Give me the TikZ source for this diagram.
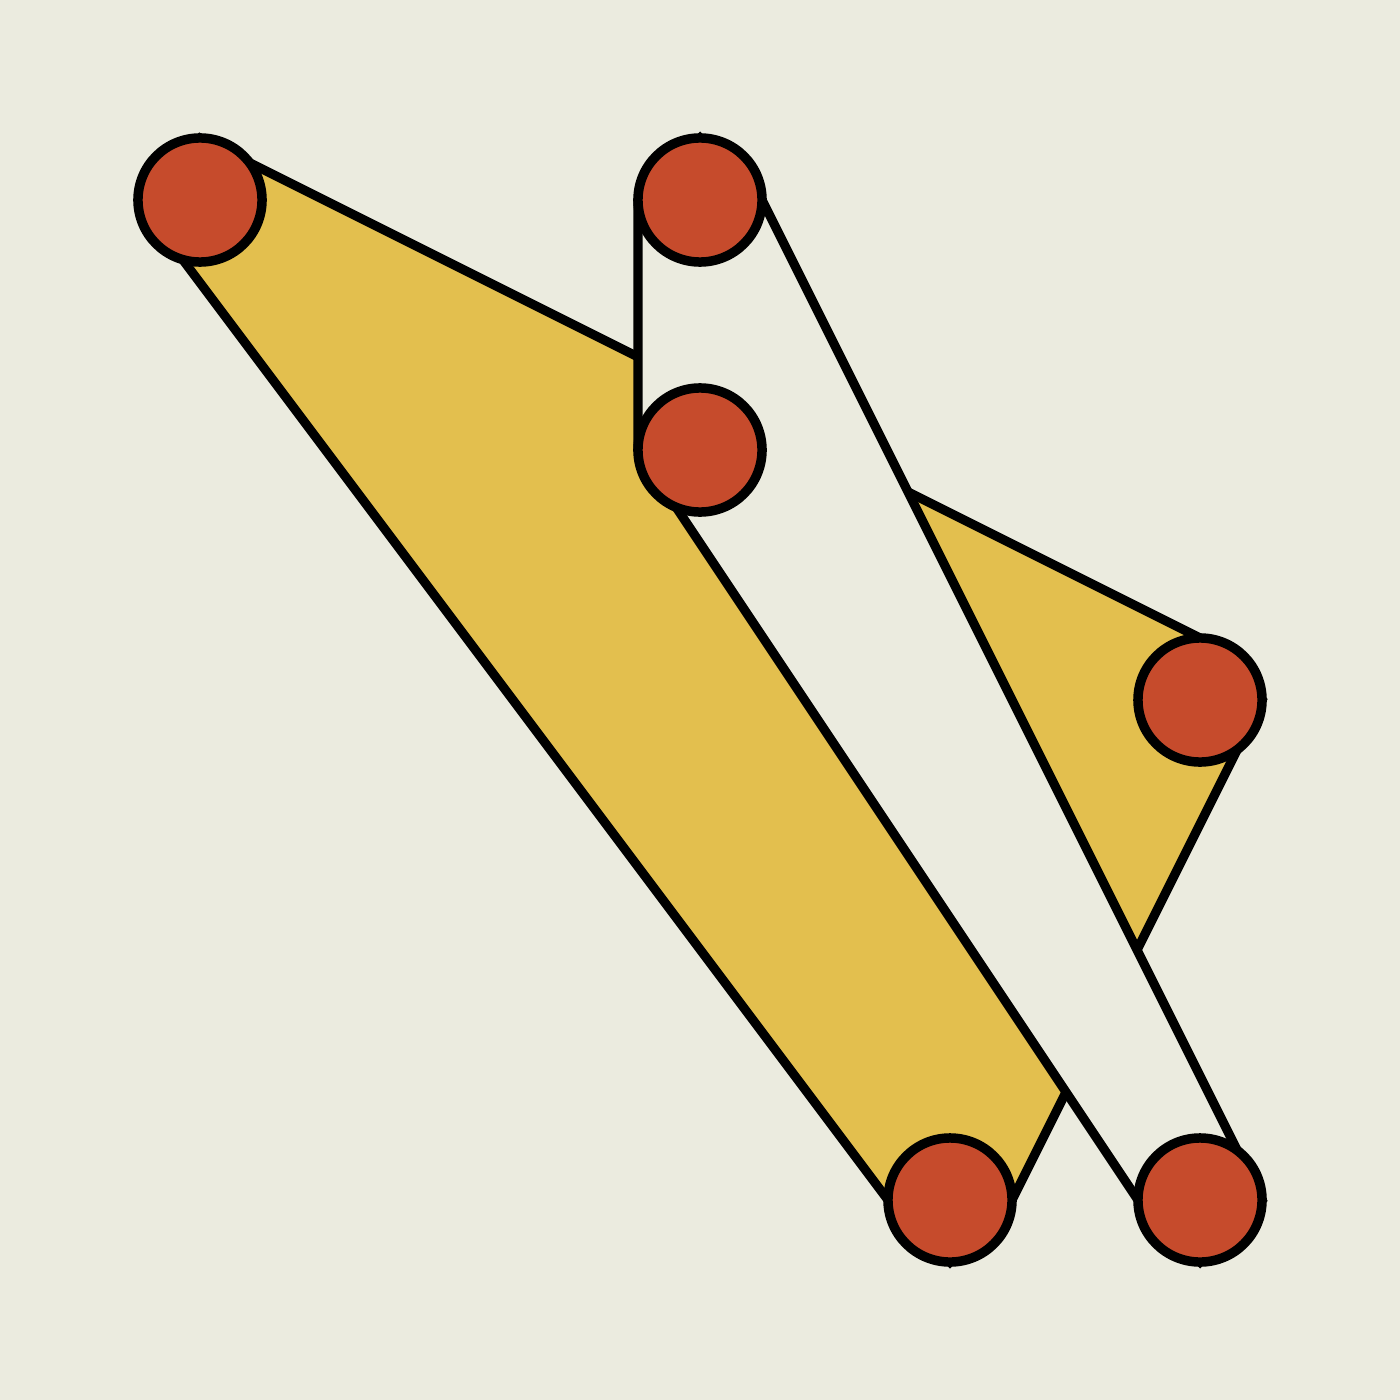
\documentclass[tikz,border=0pt]{standalone}
\definecolor{bg}{HTML}{EBEBDF}
\definecolor{band}{HTML}{E3BF4E}
\definecolor{dot}{HTML}{C64B2C}
\begin{document}
\begin{tikzpicture}[x=0.01cm,y=-0.01cm,
  edge/.style={draw=black,line width=2.6pt,line join=miter},
  dotnode/.style={circle,fill=dot,draw=black,line width=2.7pt,minimum size=1.24cm,inner sep=0pt}]
\fill[bg] (0,0) rectangle (1400,1400);
\useasboundingbox (0,0) rectangle (1400,1400);
\coordinate (A) at (200,200);
\coordinate (B) at (700,200);
\coordinate (C) at (700,450);
\coordinate (D) at (1200,700);
\coordinate (E) at (950,1200);
\coordinate (F) at (1200,1200);
% yellow band
\path[edge,fill=band] ([xshift=-0.62cm]A) -- ([yshift=0.62cm]A) -- ([yshift=0.62cm]D) -- ([xshift=0.62cm]D)
  -- ([xshift=0.62cm]E) -- ([yshift=-0.62cm]E) -- ([xshift=-0.62cm]E) -- ([xshift=-0.62cm]A);
% light band
\path[edge,fill=bg] ([yshift=0.62cm]B) -- ([xshift=-0.62cm]B) -- ([xshift=-0.62cm]C)
  -- ([xshift=-0.62cm]F) -- ([yshift=-0.62cm]F) -- ([xshift=0.62cm]F) -- ([xshift=0.62cm]B) -- cycle;
\node[dotnode] (a) at (A) {};
\node[dotnode] (b) at (B) {};
\node[dotnode] (c) at (C) {};
\node[dotnode] (d) at (D) {};
\node[dotnode] (e) at (E) {};
\node[dotnode] (f) at (F) {};
\end{tikzpicture}
\end{document}
